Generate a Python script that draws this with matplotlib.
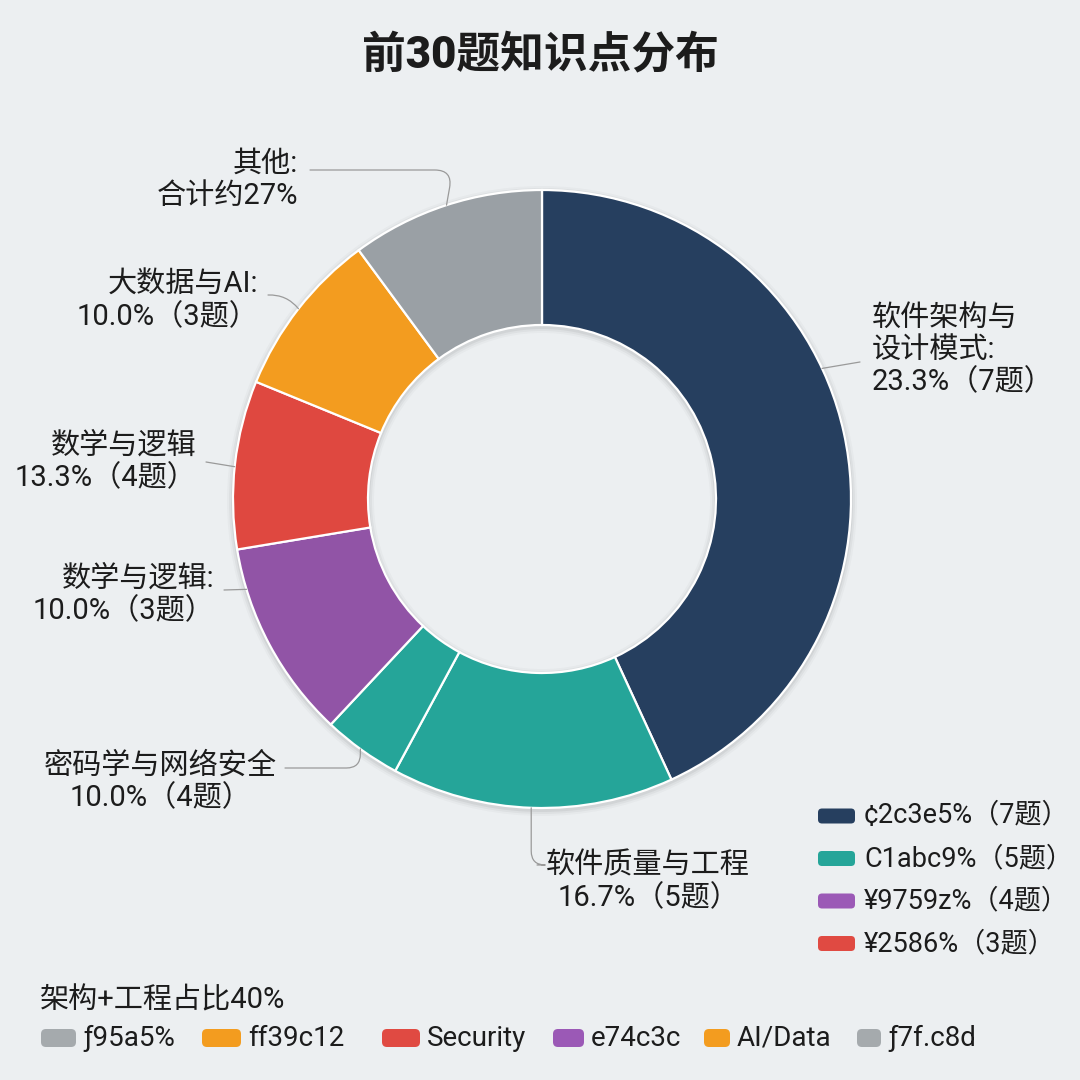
import numpy as np
import matplotlib
matplotlib.use("Agg")
import matplotlib.pyplot as plt
from matplotlib.patches import FancyBboxPatch, Wedge

plt.rcParams['font.family'] = ['Roboto', 'Noto Sans CJK SC', 'DejaVu Sans']

# ── Données ──────────────────────────────────────────────
title = "前30题知识点分布"
shares = [43.1, 14.75, 4.1, 10.4, 8.8, 8.7, 10.1]   # part visuelle de chaque secteur (%)
colors = ['#263f5f', '#25a599', '#25a599', '#9154a6', '#df4840', '#f39c1f', '#9aa0a5']
labels = [
    "软件架构与\n设计模式:\n23.3%（7题）",
    "软件质量与工程\n16.7%（5题）",
    "密码学与网络安全\n10.0%（4题）",
    "数学与逻辑:\n10.0%（3题）",
    "数学与逻辑\n13.3%（4题）",
    "大数据与AI:\n10.0%（3题）",
    "其他:\n合计约27%",
]
legend_right = ["¢2c3e5%（7题）", "C1abc9%（5题）", "¥9759z%（4题）", "¥2586%（3题）"]
legend_right_colors = ['#263f5f', '#25a599', '#9b59b6', '#e04a42']
note = "架构+工程占比40%"
legend_bottom = ["ƒ95a5%", "ff39c12", "Security", "e74c3c", "AI/Data", "ƒ7f.c8d"]
legend_bottom_colors = ['#a5aaad', '#f39c1f', '#e04a42', '#9b59b6', '#f39c1f', '#a5aaad']

# ── Mise en page (pixels, y vers le bas) ─────────────────
W = 1080
CX, CY, R, RING = 542, 499, 309, 135
BG = '#eceff1'
TXT = '#1c1c1c'
LINE = '#9a9a9a'

# label : (x, y, ha, angle d'ancrage sur l'anneau, x départ du trait, y départ, style)
label_pos = [
    (872, 350, 'left', 25, 860, 362, None),
    (648, 882, 'center', 268, 537, 865, 'angle,angleA=0,angleB=90,rad=14'),
    (160, 782, 'center', 234, 285, 768, 'angle,angleA=0,angleB=90,rad=14'),
    (214, 595, 'right', 197, 224, 590, None),
    (196, 462, 'right', 174, 206, 462, None),
    (258, 301, 'right', 142, 268, 295, 'arc3,rad=-0.25'),
    (298, 180, 'right', 108, 310, 170, 'angle,angleA=0,angleB=80,rad=18'),
]

fig = plt.figure(figsize=(10.8, 10.8), dpi=100)
fig.patch.set_facecolor(BG)
ax = fig.add_axes([0, 0, 1, 1])
ax.set_facecolor(BG)

# ombre légère autour de l'anneau
for k, a in [(6, 0.025), (4, 0.035), (2, 0.05)]:
    ax.add_patch(Wedge((CX, CY + 2), R + k, 0, 360, width=RING + 2 * k,
                       facecolor='#000000', alpha=a, edgecolor='none'))

# l'axe y est inversé : startangle=-90 + sens direct => départ en haut, sens horaire à l'écran
wedges, _ = ax.pie(shares, colors=colors, startangle=-90, counterclock=True,
                   center=(CX, CY), radius=R,
                   wedgeprops=dict(width=RING, edgecolor='white', linewidth=1.6))
ax.set_xlim(0, W)
ax.set_ylim(W, 0)
ax.set_aspect('equal')
ax.axis('off')

for lab, (tx, ty, ha, ang, lx, ly, style) in zip(labels, label_pos):
    ax.text(tx, ty, lab, ha=ha, va='center', fontsize=21, color=TXT, linespacing=1.2)
    a = np.deg2rad(ang)
    px, py = CX + R * np.cos(a), CY - R * np.sin(a)
    props = dict(arrowstyle='-', color=LINE, lw=0.9, shrinkA=0, shrinkB=0)
    if style:
        props['connectionstyle'] = style
    ax.annotate('', xy=(px, py), xytext=(lx, ly), arrowprops=props)

ax.text(540, 55, title, ha='center', va='center', fontsize=31.5, fontweight='black', color=TXT)

# légende de droite
for i, (txt, col) in enumerate(zip(legend_right, legend_right_colors)):
    y = 816 + i * 42.5
    ax.add_patch(FancyBboxPatch((818, y - 7.5), 37, 15, boxstyle='round,pad=0,rounding_size=4',
                                facecolor=col, edgecolor='none'))
    ax.text(864, y, txt, ha='left', va='center', fontsize=19.5, color=TXT)

# note + légende du bas
ax.text(40, 1000, note, ha='left', va='center', fontsize=21, color=TXT)
bx = [41, 202, 382, 553, 704, 857]
bw = [35, 39, 38, 31, 26, 24]
for x, w, txt, col in zip(bx, bw, legend_bottom, legend_bottom_colors):
    ax.add_patch(FancyBboxPatch((x, 1029), w, 18, boxstyle='round,pad=0,rounding_size=5',
                                facecolor=col, edgecolor='none'))
    ax.text(x + w + 7, 1038, txt, ha='left', va='center', fontsize=20, color=TXT)

fig.savefig("out.png", dpi=100, facecolor=BG)
